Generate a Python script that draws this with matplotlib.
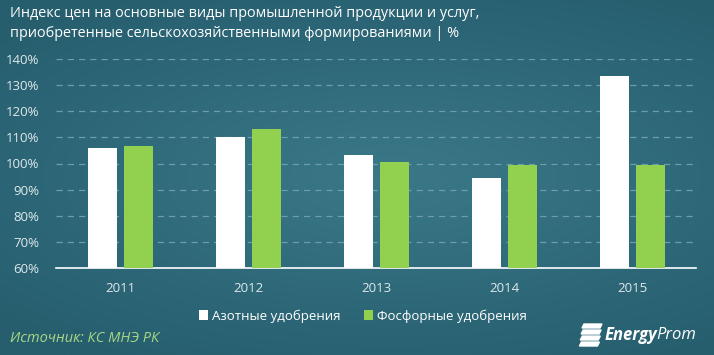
import numpy as np
import matplotlib.pyplot as plt
from matplotlib.patches import Polygon

years = ["2011", "2012", "2013", "2014", "2015"]
nitrogen = [106.1, 110.3, 103.3, 94.3, 133.5]
phosphate = [106.6, 113.2, 100.7, 99.6, 99.6]
yticks = [60, 70, 80, 90, 100, 110, 120, 130, 140]

title = ("Индекс цен на основные виды промышленной продукции и услуг,\n"
         "приобретенные сельскохозяйственными формированиями | %")
legend_labels = ["Азотные удобрения", "Фосфорные удобрения"]
source = "Источник: КС МНЭ РК"

plt.rcParams['font.family'] = ['Open Sans', 'DejaVu Sans']

W, H = 714, 355
fig = plt.figure(figsize=(W / 100, H / 100), dpi=100)

# background gradient
bg = fig.add_axes([0, 0, 1, 1])
yy, xx = np.mgrid[0:1:200j, 0:1:400j]
r = np.sqrt(((xx - 0.55) / 1.0) ** 2 + ((yy - 0.5) / 0.8) ** 2)
c_in = np.array([0x3a, 0x78, 0x88]) / 255
c_out = np.array([0x26, 0x5e, 0x6e]) / 255
t = np.clip(r / 0.75, 0, 1)[..., None]
img = c_in * (1 - t) + c_out * t
bg.imshow(img, aspect='auto', extent=[0, 1, 0, 1])
bg.set_axis_off()

ax = fig.add_axes([56 / W, (H - 268) / H, 640 / W, 209 / H])
ax.patch.set_alpha(0)
x = np.arange(len(years))
bw = 0.227
ax.bar(x - 0.14, nitrogen, width=bw, color='white', zorder=3, label=legend_labels[0])
ax.bar(x + 0.145, phosphate, width=bw, color='#92d050', zorder=3, label=legend_labels[1])

ax.set_ylim(60, 140)
ax.set_xlim(-0.5, 4.5)
ax.set_yticks(yticks)
ax.set_yticklabels([f"{v}%" for v in yticks])
ax.set_xticks(x)
ax.set_xticklabels(years)
ax.tick_params(length=0, labelsize=9.5, labelcolor='#dfe9ec')
ax.tick_params(axis='x', pad=10)
ax.tick_params(axis='y', pad=12)
for s in ['top', 'right', 'left']:
    ax.spines[s].set_visible(False)
ax.spines['bottom'].set_color('white')
ax.spines['bottom'].set_linewidth(1.2)
ax.grid(axis='y', color='#6b9dab', linestyle=(0, (5, 4)), linewidth=0.9, zorder=0)
ax.set_axisbelow(True)

fig.text(10 / W, 1 - 6 / H, title, color='white', fontsize=10.4, va='top',
         ha='left', linespacing=1.45)

leg = fig.legend(loc='center', bbox_to_anchor=(0.5 + 6 / W, 1 - 316 / H), ncol=2,
                 frameon=False, fontsize=9.5, handlelength=0.7, handleheight=0.7,
                 handletextpad=0.3, columnspacing=1.8, labelcolor='white')

fig.text(10 / W, 1 - 338 / H, source, color='#a6d785', fontsize=10.5,
         style='italic', va='center', ha='left')

# logo
lx = 582
for i in range(4):
    y0 = 1 - (324 + i * 6) / H
    xs = np.array([lx + 2, lx + 20, lx + 18, lx]) / W
    ys = np.array([y0, y0, y0 - 4 / H, y0 - 4 / H])
    fig.add_artist(Polygon(np.c_[xs - i * 0.0012, ys], closed=True,
                           color='white', transform=fig.transFigure))
t1 = fig.text((lx + 23) / W, 1 - 335 / H, "Energy", color='white', fontsize=12,
              style='italic', weight='bold', va='center', ha='left')
fig.canvas.draw()
bb = t1.get_window_extent()
fig.text(bb.x1 / W - 1 / W, 1 - 335 / H, "Prom", color='white', fontsize=12,
         style='italic', va='center', ha='left')

fig.savefig("out.png", dpi=100)
